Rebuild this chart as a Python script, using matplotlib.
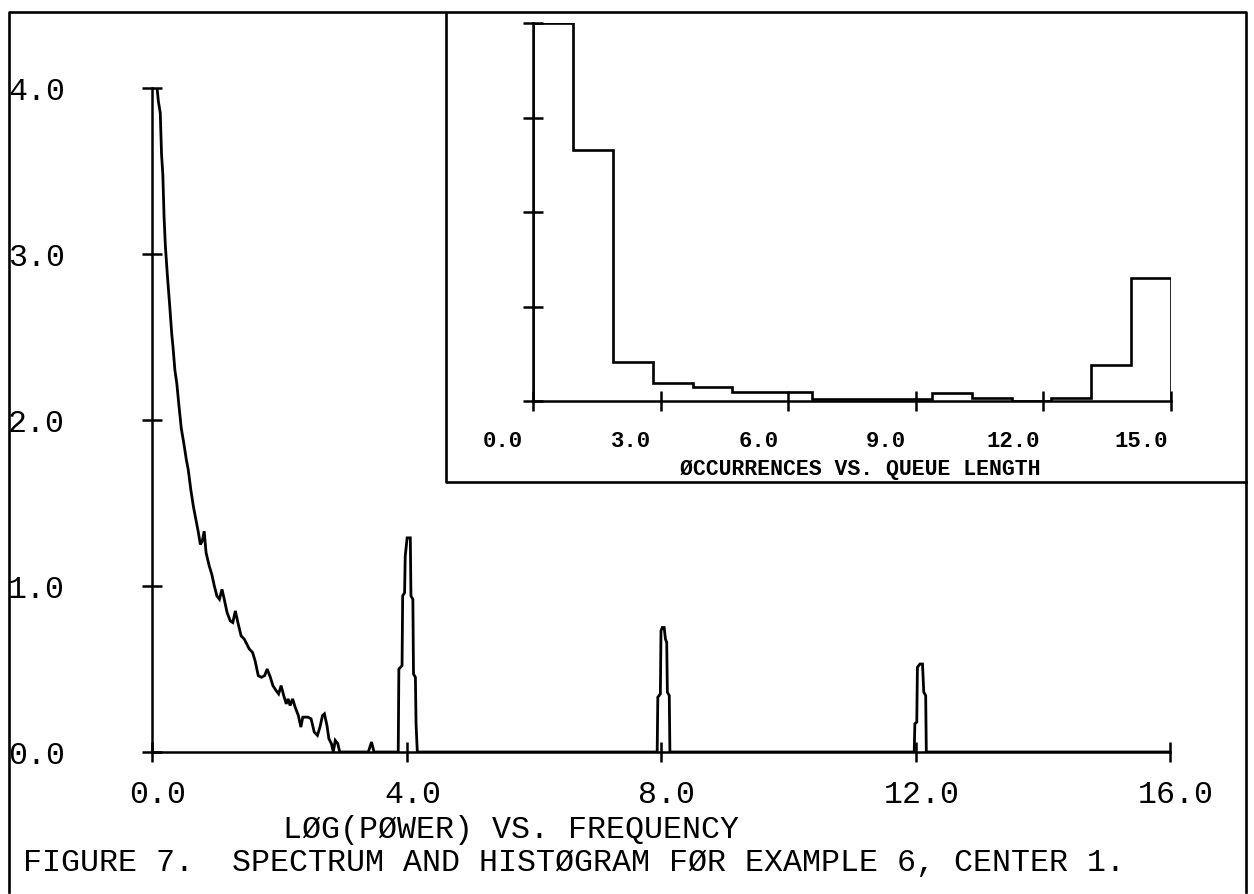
import numpy as np
import matplotlib
matplotlib.use("Agg")
import matplotlib.pyplot as plt
from matplotlib.transforms import ScaledTranslation

plt.rcParams['font.family'] = ['Liberation Mono', 'DejaVu Sans Mono']

# spectrum trace, log(power) against frequency
freq = [0.00, 0.08, 0.10, 0.13, 0.15, 0.17, 0.19, 0.21, 0.24, 0.28,
        0.31, 0.33, 0.36, 0.39, 0.42, 0.46, 0.50, 0.54, 0.57, 0.61,
        0.65, 0.69, 0.73, 0.76, 0.79, 0.82, 0.85, 0.90, 0.94, 0.98,
        1.02, 1.06, 1.10, 1.13, 1.18, 1.23, 1.27, 1.31, 1.35, 1.40,
        1.45, 1.49, 1.53, 1.58, 1.62, 1.67, 1.72, 1.77, 1.81, 1.86,
        1.90, 1.95, 1.99, 2.03, 2.07, 2.11, 2.14, 2.17, 2.21, 2.25,
        2.30, 2.34, 2.37, 2.45, 2.50, 2.55, 2.60, 2.64, 2.68, 2.71,
        2.75, 2.78, 2.82, 2.85, 2.88, 2.92, 2.95, 3.40, 3.45, 3.49,
        3.87, 3.88, 3.93, 3.94, 3.97, 3.98, 4.01, 4.06, 4.07, 4.10,
        4.11, 4.14, 4.15, 4.17, 7.94, 7.95, 7.99, 8.00, 8.02, 8.05,
        8.07, 8.09, 8.10, 8.13, 8.14, 11.98, 11.99, 12.02, 12.03, 12.07,
        12.11, 12.13, 12.16, 12.17, 16.00]
log_power = [4.00, 4.00, 3.92, 3.85, 3.60, 3.48, 3.22, 3.05, 2.88, 2.68,
             2.52, 2.44, 2.30, 2.22, 2.10, 1.95, 1.86, 1.76, 1.70, 1.58,
             1.48, 1.40, 1.32, 1.25, 1.27, 1.33, 1.20, 1.12, 1.07, 1.00,
             0.94, 0.92, 0.98, 0.93, 0.84, 0.79, 0.78, 0.85, 0.78, 0.70,
             0.68, 0.65, 0.62, 0.60, 0.55, 0.46, 0.45, 0.46, 0.50, 0.45,
             0.40, 0.37, 0.35, 0.40, 0.34, 0.29, 0.32, 0.28, 0.32, 0.27,
             0.22, 0.15, 0.21, 0.21, 0.20, 0.12, 0.10, 0.15, 0.22, 0.23,
             0.16, 0.08, 0.05, 0.00, 0.07, 0.05, 0.00, 0.00, 0.06, 0.00,
             0.00, 0.50, 0.52, 0.94, 0.96, 1.18, 1.29, 1.29, 0.94, 0.92,
             0.47, 0.45, 0.17, 0.00, 0.00, 0.33, 0.35, 0.73, 0.75, 0.75,
             0.68, 0.66, 0.36, 0.34, 0.00, 0.00, 0.17, 0.18, 0.51, 0.53,
             0.53, 0.36, 0.34, 0.00, 0.00]

# occurrences of each queue length 0..15
queue_occ = [4.00, 2.66, 0.41, 0.19, 0.15, 0.10, 0.10, 0.02,
             0.02, 0.02, 0.08, 0.035, 0.00, 0.03, 0.38, 1.30]

spec_xticks = [0, 4, 8, 12, 16]
spec_xlabels = ['0.0', '4.0', '8.0', '12.0', '16.0']
spec_yticks = [0, 1, 2, 3, 4]
spec_ylabels = ['0.0', '1.0', '2.0', '3.0', '4.0']
hist_xticks = [0, 3, 6, 9, 12, 15]
hist_xlabels = ['0.0', '3.0', '6.0', '9.0', '12.0', '15.0']
hist_yticks = [0, 1, 2, 3, 4]

W, H = 1254, 894
fig = plt.figure(figsize=(W / 100, H / 100), dpi=100)


def box(x0, y0, x1, y1, **kw):
    # pixel box measured from top-left -> axes
    return fig.add_axes([x0 / W, 1 - y1 / H, (x1 - x0) / W, (y1 - y0) / H], **kw)


def shift(labels, dx, dy=0):
    off = ScaledTranslation(dx / 100, dy / 100, fig.dpi_scale_trans)
    for t in labels:
        t.set_transform(t.get_transform() + off)


# page frame, inset box and captions in pixel space
bg = box(0, 0, W, H)
bg.set_xlim(0, W)
bg.set_ylim(H, 0)
bg.axis('off')
bg.plot([9, 9, 1246, 1246], [892, 12, 12, 892], color='k', lw=1.9)
bg.plot([446, 446, 1246], [13, 482, 482], color='k', lw=1.9)
bg.text(283, 830, 'LØG(PØWER) VS. FREQUENCY', fontsize=22.8,
        ha='left', va='center')
bg.text(23, 863, 'FIGURE 7.  SPECTRUM AND HISTØGRAM FØR EXAMPLE 6, CENTER 1.',
        fontsize=22.8, ha='left', va='center')
bg.text(860, 469, 'ØCCURRENCES VS. QUEUE LENGTH', fontsize=15.5,
        fontweight='bold', ha='center', va='center')

# spectrum
ax = box(152, 88, 1170, 752)
ax.patch.set_alpha(0)
ax.plot(freq, log_power, color='k', lw=2.0, solid_joinstyle='miter')
ax.set_xlim(0, 16)
ax.set_ylim(0, 4)
for s in ('top', 'right'):
    ax.spines[s].set_visible(False)
for s in ('left', 'bottom'):
    ax.spines[s].set_linewidth(1.8)
ax.set_xticks(spec_xticks, spec_xlabels)
ax.set_yticks(spec_yticks, spec_ylabels)
ax.tick_params(direction='inout', length=15, width=1.8, labelsize=22.8)
ax.tick_params(axis='x', pad=13)
ax.tick_params(axis='y', pad=55)
shift(ax.get_xticklabels(), 6)

# queue-length histogram
ax2 = box(533, 23, 1171, 401)
ax2.patch.set_alpha(0)
edges = np.linspace(0, 15, len(queue_occ) + 1)
ax2.stairs(queue_occ, edges, baseline=0, color='k', lw=1.9)
ax2.set_xlim(0, 15)
ax2.set_ylim(0, 4)
for s in ('top', 'right'):
    ax2.spines[s].set_visible(False)
for s in ('left', 'bottom'):
    ax2.spines[s].set_linewidth(1.8)
ax2.set_xticks(hist_xticks, hist_xlabels)
ax2.set_yticks(hist_yticks, [])
ax2.tick_params(direction='inout', length=15, width=1.8)
ax2.tick_params(axis='x', labelsize=16, pad=14)
for t in ax2.get_xticklabels():
    t.set_fontweight('bold')
shift(ax2.get_xticklabels(), -30)

fig.savefig('out.png', dpi=100, facecolor='white')
